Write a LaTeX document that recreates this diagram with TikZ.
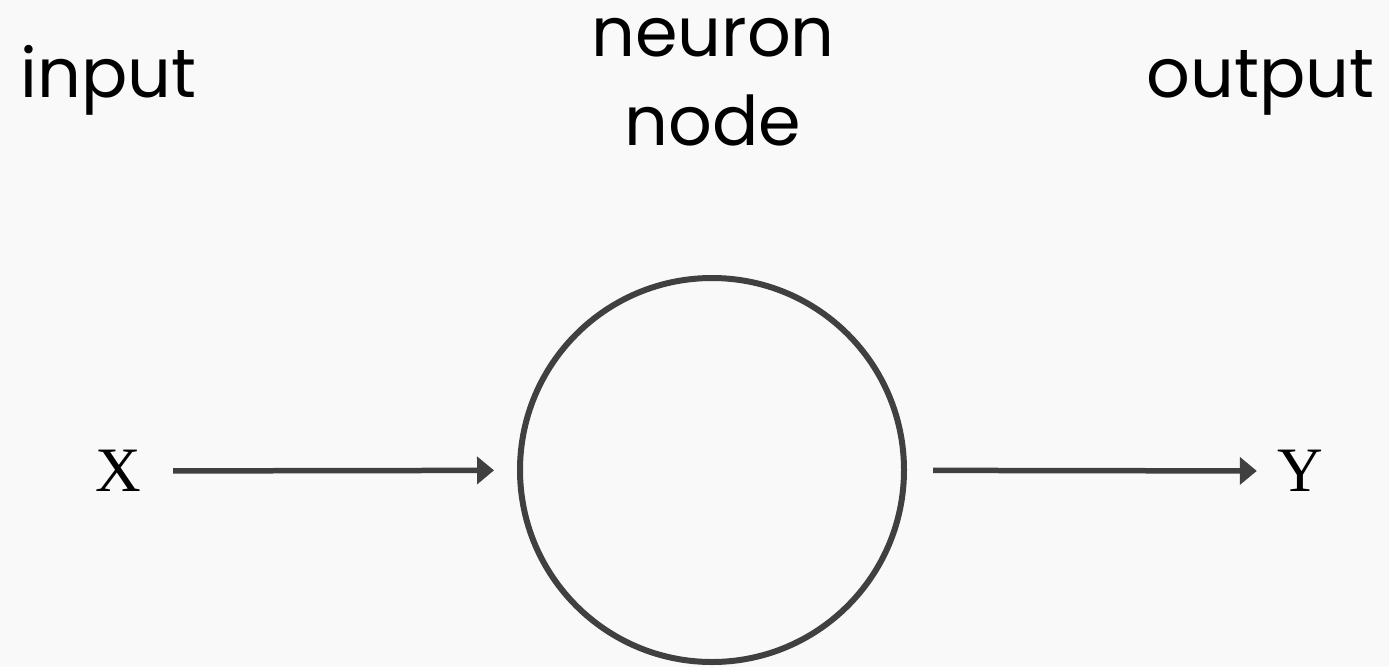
\documentclass[tikz,border=0pt]{standalone}
\usepackage{fontspec}
\setmainfont{Poppins}
\newfontfamily\varfont{Liberation Serif}
\usetikzlibrary{arrows.meta,positioning}
\definecolor{paper}{RGB}{249,249,249}
\definecolor{ink}{RGB}{64,64,64}

\begin{document}
\begin{tikzpicture}[x=0.02cm,y=-0.02cm]
		\tikzstyle{main}=[circle, minimum size = 384*0.02cm, line width = 0.12cm, draw = ink, inner sep = 0pt]
		\tikzstyle{connect}=[-{Triangle[length=0.34cm,width=0.54cm]}, line width = 0.11cm, draw = ink]
		\tikzstyle{caption}=[inner sep=0pt, font=\fontsize{39}{51}\selectfont]
		\tikzstyle{var}=[inner sep=0pt, font=\varfont\fontsize{36}{40}\selectfont]
		\fill[paper] (0,0) rectangle (1389,667);
		\useasboundingbox (0,0) rectangle (1389,667);
		\node[main] (neuron) at (712,470) { };
		\node[var] (x) at (118,471) {X};
		\node[var] (y) at (1300,471) {Y};
		\node[caption, anchor=base west] (input) at (20,97) {input};
		\node[caption, anchor=base east] (output) at (1375,97) {output};
		\node[caption, align=center] (label) at (713,82) {neuron\\node};
		\path (x) edge [connect, shorten <= 0.64cm, shorten >= 0.46cm] (neuron)
		(neuron) edge [connect, shorten <= 0.52cm, shorten >= 0.4cm] (y);
\end{tikzpicture}
\end{document}
